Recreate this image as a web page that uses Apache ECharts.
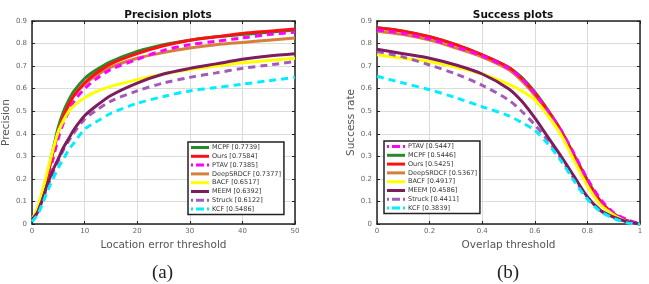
<!DOCTYPE html>
<html>
<head>
<meta charset="utf-8">
<script src="https://cdn.jsdelivr.net/npm/echarts@6/dist/echarts.min.js"></script>
<style>
  html, body { margin: 0; padding: 0; background: #fff; }
  #chart { width: 649px; height: 284px; }
</style>
</head>
<body>
<div id="chart"></div>
<script>
// precision plot (location error threshold)
const precX = [0, 1, 2, 3, 4, 5, 6, 7, 8, 10, 12, 15, 20, 25, 30, 35, 40, 45, 50]
const precMCPF   = [0.02, 0.06, 0.14, 0.23, 0.33, 0.43, 0.50, 0.55, 0.59, 0.645, 0.68, 0.72, 0.765, 0.795, 0.815, 0.83, 0.84, 0.85, 0.86]
const precOurs   = [0.02, 0.06, 0.14, 0.22, 0.32, 0.41, 0.48, 0.53, 0.57, 0.625, 0.665, 0.71, 0.755, 0.79, 0.815, 0.83, 0.845, 0.855, 0.865]
const precPTAV   = [0.02, 0.05, 0.12, 0.20, 0.29, 0.38, 0.45, 0.50, 0.545, 0.60, 0.64, 0.685, 0.73, 0.77, 0.795, 0.81, 0.825, 0.84, 0.85]
const precDeep   = [0.02, 0.06, 0.14, 0.22, 0.32, 0.41, 0.48, 0.53, 0.57, 0.62, 0.655, 0.695, 0.735, 0.76, 0.78, 0.795, 0.805, 0.815, 0.825]
const precBACF   = [0.02, 0.07, 0.15, 0.24, 0.33, 0.41, 0.46, 0.50, 0.525, 0.56, 0.585, 0.61, 0.64, 0.665, 0.685, 0.70, 0.715, 0.725, 0.735]
const precMEEM   = [0.02, 0.05, 0.11, 0.18, 0.24, 0.29, 0.34, 0.38, 0.42, 0.48, 0.52, 0.57, 0.625, 0.665, 0.69, 0.71, 0.73, 0.745, 0.755]
const precStruck = [0.02, 0.05, 0.11, 0.17, 0.23, 0.28, 0.33, 0.37, 0.405, 0.465, 0.50, 0.545, 0.59, 0.625, 0.65, 0.67, 0.69, 0.705, 0.72]
const precKCF    = [0.01, 0.04, 0.09, 0.15, 0.20, 0.25, 0.29, 0.33, 0.36, 0.42, 0.45, 0.49, 0.535, 0.565, 0.59, 0.605, 0.62, 0.635, 0.65]

// success plot (overlap threshold)
const succX = [0, 0.1, 0.2, 0.3, 0.4, 0.5, 0.55, 0.6, 0.65, 0.7, 0.75, 0.8, 0.85, 0.9, 0.95, 1]
const succPTAV   = [0.86, 0.845, 0.82, 0.785, 0.745, 0.69, 0.645, 0.58, 0.50, 0.415, 0.31, 0.20, 0.11, 0.05, 0.02, 0]
const succMCPF   = [0.87, 0.855, 0.83, 0.795, 0.75, 0.695, 0.65, 0.585, 0.505, 0.415, 0.305, 0.195, 0.10, 0.045, 0.015, 0]
const succOurs   = [0.87, 0.855, 0.83, 0.795, 0.75, 0.695, 0.645, 0.58, 0.50, 0.41, 0.30, 0.19, 0.10, 0.045, 0.015, 0]
const succDeep   = [0.855, 0.84, 0.815, 0.78, 0.74, 0.685, 0.635, 0.57, 0.49, 0.40, 0.29, 0.18, 0.095, 0.04, 0.015, 0]
const succBACF   = [0.75, 0.735, 0.72, 0.695, 0.665, 0.62, 0.59, 0.55, 0.48, 0.395, 0.28, 0.17, 0.085, 0.04, 0.01, 0]
const succMEEM   = [0.775, 0.755, 0.735, 0.705, 0.665, 0.60, 0.545, 0.47, 0.385, 0.30, 0.21, 0.12, 0.06, 0.03, 0.01, 0]
const succStruck = [0.765, 0.74, 0.705, 0.665, 0.615, 0.55, 0.50, 0.44, 0.37, 0.29, 0.20, 0.12, 0.06, 0.03, 0.01, 0]
const succKCF    = [0.655, 0.625, 0.595, 0.56, 0.52, 0.48, 0.45, 0.415, 0.355, 0.28, 0.19, 0.11, 0.055, 0.025, 0.005, 0]

const precLegend = ['MCPF [0.7739]', 'Ours [0.7584]', 'PTAV [0.7385]', 'DeepSRDCF [0.7377]', 'BACF [0.6517]', 'MEEM [0.6392]', 'Struck [0.6122]', 'KCF [0.5486]']
const succLegend = ['PTAV [0.5447]', 'MCPF [0.5446]', 'Ours [0.5425]', 'DeepSRDCF [0.5367]', 'BACF [0.4917]', 'MEEM [0.4586]', 'Struck [0.4411]', 'KCF [0.3839]']
const dashedNames = ['PTAV', 'Struck', 'KCF']

const colors = {
  MCPF: '#2a8a2a',
  Ours: '#ff1111',
  PTAV: '#ff00ff',
  Deep: '#d47f3a',
  BACF: '#ffff00',
  MEEM: '#7d1d5d',
  Struck: '#a35bb8',
  KCF: '#00eeff'
}

function pairs(xs, ys) {
  return xs.map((x, i) => [x, ys[i]])
}

function line(name, color, xs, ys, idx, dashed) {
  return {
    name: name,
    type: 'line',
    xAxisIndex: idx,
    yAxisIndex: idx,
    data: pairs(xs, ys),
    smooth: 0.3,
    symbol: 'none',
    color: color,
    lineStyle: { color: color, width: 3, type: dashed ? [7, 5] : 'solid' },
    animation: false
  }
}

const gridLeft = { left: 32, top: 21, width: 263, height: 203 }
const gridRight = { left: 377, top: 21, width: 263, height: 203 }

const axisLabelStyle = { color: '#666', fontSize: 7, fontFamily: 'DejaVu Sans' }
const splitStyle = { show: true, lineStyle: { color: '#dcdcdc', width: 1 } }
const frameLine = { show: true, onZero: false, lineStyle: { color: '#222', width: 1.5 } }
const tickIn = { show: true, inside: true, length: 3, lineStyle: { color: '#222' } }

function xAxes(idx, min, max, interval, name) {
  return [{
    type: 'value', gridIndex: idx, min: min, max: max, interval: interval,
    name: name, nameLocation: 'middle', nameGap: 15,
    nameTextStyle: { color: '#555', fontSize: 10.5, fontFamily: 'DejaVu Sans' },
    axisLine: frameLine, axisTick: tickIn, splitLine: splitStyle,
    axisLabel: Object.assign({ margin: 4 }, axisLabelStyle)
  }, {
    type: 'value', gridIndex: idx, position: 'top', min: min, max: max, interval: interval,
    axisLine: frameLine, axisTick: tickIn, splitLine: { show: false }, axisLabel: { show: false }
  }]
}

function yAxes(idx, name) {
  return [{
    type: 'value', gridIndex: idx, min: 0, max: 0.9, interval: 0.1,
    name: name, nameLocation: 'middle', nameGap: 19,
    nameTextStyle: { color: '#555', fontSize: 10.5, fontFamily: 'DejaVu Sans' },
    axisLine: frameLine, axisTick: tickIn, splitLine: splitStyle,
    axisLabel: Object.assign({ margin: 5, formatter: v => (Math.round(v * 10) / 10).toString() }, axisLabelStyle)
  }, {
    type: 'value', gridIndex: idx, position: 'right', min: 0, max: 0.9, interval: 0.1,
    axisLine: frameLine, axisTick: tickIn, splitLine: { show: false }, axisLabel: { show: false }
  }]
}

// legend swatches: a solid bar, or one short dash for the dashed series
const solidIcon = 'path://M0,0H18V3H0Z'
const dashIcon = 'path://M0,0H2V3H0Z M5,0H13V3H5Z M16,0H18V3H16Z'

function legendBox(left, top, names) {
  return {
    orient: 'vertical', left: left, top: top, width: 99,
    data: names.map(n => ({
      name: n,
      icon: dashedNames.includes(n.split(' ')[0]) ? dashIcon : solidIcon
    })),
    itemWidth: 18, itemHeight: 3, itemGap: 1.8,
    padding: [2, 3, 2, 3],
    backgroundColor: '#fff', borderColor: '#222', borderWidth: 1.5, borderRadius: 0,
    textStyle: { color: '#333', fontSize: 6.5, fontFamily: 'DejaVu Sans', padding: [0, 0, 0, -2] },
    selectedMode: false
  }
}

const xs = [].concat(xAxes(0, 0, 50, 10, 'Location error threshold'), xAxes(1, 0, 1, 0.2, 'Overlap threshold'))
const ys = [].concat(yAxes(0, 'Precision'), yAxes(1, 'Success rate'))

// series use axes 0 (left) and 2 (right); 1 and 3 are the frame copies
const series = [
  line(precLegend[0], colors.MCPF, precX, precMCPF, 0, false),
  line(precLegend[3], colors.Deep, precX, precDeep, 0, false),
  line(precLegend[2], colors.PTAV, precX, precPTAV, 0, true),
  line(precLegend[1], colors.Ours, precX, precOurs, 0, false),
  line(precLegend[4], colors.BACF, precX, precBACF, 0, false),
  line(precLegend[6], colors.Struck, precX, precStruck, 0, true),
  line(precLegend[5], colors.MEEM, precX, precMEEM, 0, false),
  line(precLegend[7], colors.KCF, precX, precKCF, 0, true),

  line(succLegend[1], colors.MCPF, succX, succMCPF, 2, false),
  line(succLegend[3], colors.Deep, succX, succDeep, 2, false),
  line(succLegend[2], colors.Ours, succX, succOurs, 2, false),
  line(succLegend[0], colors.PTAV, succX, succPTAV, 2, true),
  line(succLegend[4], colors.BACF, succX, succBACF, 2, false),
  line(succLegend[6], colors.Struck, succX, succStruck, 2, true),
  line(succLegend[5], colors.MEEM, succX, succMEEM, 2, false),
  line(succLegend[7], colors.KCF, succX, succKCF, 2, true)
]

const chart = echarts.init(document.getElementById('chart'))
chart.setOption({
  animation: false,
  title: [
    { text: 'Precision plots', left: 163, top: 5, textAlign: 'center',
      textStyle: { fontSize: 10.5, fontWeight: 'bold', color: '#111', fontFamily: 'DejaVu Sans' } },
    { text: 'Success plots', left: 508, top: 5, textAlign: 'center',
      textStyle: { fontSize: 10.5, fontWeight: 'bold', color: '#111', fontFamily: 'DejaVu Sans' } }
  ],
  grid: [
    Object.assign({ show: true, borderWidth: 0, backgroundColor: '#fff' }, gridLeft),
    Object.assign({ show: true, borderWidth: 0, backgroundColor: '#fff' }, gridRight)
  ],
  xAxis: xs,
  yAxis: ys,
  legend: [legendBox(188, 142, precLegend), legendBox(384, 141, succLegend)],
  graphic: [
    { type: 'text', left: 152, top: 264, style: { text: '(a)', fontSize: 19, fontFamily: 'Liberation Serif', fill: '#222' } },
    { type: 'text', left: 497, top: 264, style: { text: '(b)', fontSize: 19, fontFamily: 'Liberation Serif', fill: '#222' } }
  ],
  series: series
})
</script>
</body>
</html>
